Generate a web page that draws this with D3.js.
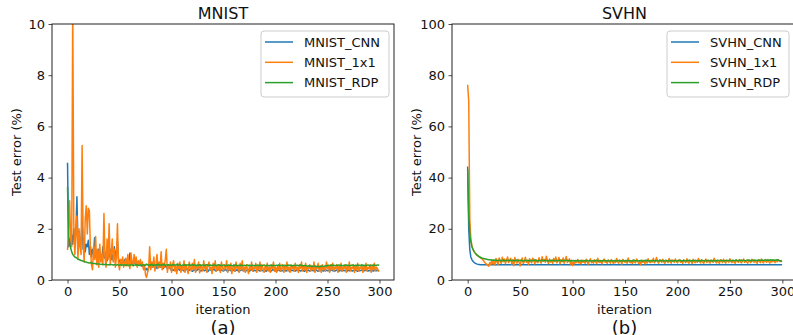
<!DOCTYPE html>
<html><head><meta charset="utf-8">
<script src="https://cdn.jsdelivr.net/npm/d3@7"></script>
<style>body{margin:0;background:#fff}svg{display:block}text{font-family:"DejaVu Sans",sans-serif;fill:#111}</style>
</head><body><svg id="c" width="793" height="335"></svg>
<script>
const xTicks = [0,50,100,150,200,250,300];
const mnistYTicks = [0,2,4,6,8,10];
const svhnYTicks = [0,20,40,60,80,100];
const mnistNames = ["MNIST_CNN","MNIST_1x1","MNIST_RDP"];
const svhnNames = ["SVHN_CNN","SVHN_1x1","SVHN_RDP"];
const colors = ["#1f77b4","#ff7f0e","#2ca02c"];

const mnistCNN = [4.55,1.30,1.60,1.35,1.75,1.40,2.00,1.50,1.80,3.25,
1.40,1.90,1.30,1.50,2.35,1.20,1.60,1.10,1.40,1.30,
1.55,1.00,1.30,0.90,1.20,1.00,1.65,0.90,1.10,0.80,
1.20,0.90,1.00,0.80,1.30,0.90,0.85,1.10,0.75,1.00,
0.90,1.20,0.80,1.00,0.75,1.30,0.90,1.10,1.50,0.80,
0.70,0.80,0.60,0.75,0.65,0.80,0.70,0.60,0.75,0.70,
1.05,0.70,0.65,0.60,0.70,0.65,0.60,0.70,0.60,0.65,
0.60,0.55,0.60,0.50,0.45,0.40,0.45,0.35,0.50,0.55,
0.50,0.55,0.50,0.60,0.50,0.55,0.45,0.50,0.55,0.50,
0.55,0.50,0.45,0.50,0.55,0.50,0.45,0.50,0.50,0.45,
0.36,0.40,0.38,0.42,0.37,0.35,0.40,0.44,0.38,0.36,
0.41,0.39,0.35,0.37,0.43,0.40,0.36,0.38,0.42,0.39,
0.34,0.37,0.41,0.38,0.36,0.40,0.45,0.39,0.35,0.37,
0.42,0.38,0.36,0.40,0.37,0.33,0.39,0.41,0.38,0.36,
0.40,0.43,0.37,0.35,0.39,0.42,0.38,0.36,0.40,0.37,
0.35,0.39,0.41,0.37,0.34,0.38,0.40,0.36,0.39,0.42,
0.37,0.35,0.38,0.40,0.36,0.33,0.37,0.39,0.41,0.36,
0.38,0.35,0.37,0.40,0.36,0.34,0.38,0.41,0.37,0.35,
0.39,0.36,0.38,0.42,0.37,0.35,0.40,0.38,0.36,0.39,
0.37,0.34,0.38,0.40,0.36,0.38,0.35,0.39,0.41,0.37,
0.35,0.38,0.36,0.40,0.37,0.34,0.38,0.36,0.39,0.37,
0.35,0.38,0.40,0.36,0.34,0.37,0.39,0.36,0.38,0.35,
0.37,0.40,0.36,0.38,0.35,0.37,0.39,0.36,0.34,0.38,
0.36,0.39,0.37,0.35,0.38,0.40,0.36,0.37,0.35,0.39,
0.37,0.34,0.38,0.36,0.40,0.37,0.35,0.38,0.36,0.39,
0.36,0.38,0.35,0.37,0.40,0.36,0.38,0.35,0.37,0.39,
0.36,0.34,0.38,0.37,0.35,0.39,0.36,0.38,0.37,0.35,
0.38,0.36,0.40,0.37,0.35,0.38,0.36,0.39,0.37,0.34,
0.38,0.36,0.37,0.39,0.35,0.38,0.36,0.40,0.37,0.35,
0.38,0.36,0.39,0.37,0.35,0.38,0.40,0.36,0.38,0.37];

const mnist1x1 = [1.20,2.00,3.10,1.60,1.30,10.8,2.20,1.00,1.80,2.50,
0.80,2.00,1.30,1.00,5.25,1.50,0.70,2.40,2.90,1.80,
2.80,2.70,1.20,0.60,0.40,1.30,0.80,1.70,0.60,1.20,
0.50,1.40,0.70,1.00,0.60,2.60,0.90,0.50,1.60,0.80,
2.20,0.60,1.00,1.60,0.70,1.20,0.50,0.90,2.20,0.60,
0.40,0.80,0.60,0.90,0.50,0.70,0.85,0.55,1.00,0.60,
0.45,1.05,0.70,0.55,1.00,0.65,0.90,0.50,0.75,0.60,
0.80,0.55,0.70,0.40,0.60,0.20,0.10,0.30,0.50,1.30,
0.40,0.70,0.50,0.90,0.35,0.60,1.00,0.45,0.70,0.50,
1.10,0.40,0.65,0.50,0.80,1.20,0.30,0.60,0.45,0.70,
0.30,0.60,0.75,0.35,0.55,0.25,0.65,0.45,0.70,0.30,
0.55,0.40,0.75,0.30,0.60,0.45,0.25,0.70,0.50,0.35,
0.65,0.40,0.80,0.30,0.55,0.45,0.70,0.28,0.60,0.50,
0.35,0.75,0.45,0.60,0.30,0.55,0.70,0.40,0.50,0.25,
0.65,0.45,0.75,0.35,0.55,0.40,0.60,0.30,0.70,0.50,
0.35,0.60,0.45,0.75,0.30,0.55,0.40,0.65,0.25,0.50,
0.60,0.35,0.70,0.45,0.55,0.30,0.65,0.40,0.75,0.35,
0.50,0.30,0.60,0.45,0.25,0.55,0.40,0.70,0.35,0.50,
0.45,0.65,0.30,0.55,0.40,0.70,0.35,0.60,0.45,0.30,
0.55,0.40,0.65,0.35,0.50,0.30,0.60,0.45,0.70,0.35,
0.50,0.30,0.55,0.40,0.65,0.35,0.45,0.60,0.30,0.55,
0.40,0.70,0.35,0.50,0.30,0.60,0.45,0.55,0.35,0.65,
0.40,0.50,0.30,0.60,0.45,0.70,0.35,0.55,0.40,0.65,
0.30,0.50,0.45,0.60,0.35,0.55,0.40,0.70,0.30,0.50,
0.45,0.65,0.35,0.55,0.30,0.60,0.40,0.50,0.35,0.70,
0.45,0.55,0.30,0.60,0.40,0.65,0.35,0.50,0.45,0.60,
0.30,0.55,0.40,0.65,0.35,0.50,0.45,0.60,0.30,0.55,
0.40,0.70,0.35,0.50,0.45,0.60,0.30,0.55,0.40,0.65,
0.35,0.50,0.45,0.60,0.30,0.55,0.40,0.65,0.35,0.50,
0.45,0.60,0.30,0.55,0.40,0.65,0.35,0.50,0.45,0.35];

const mnistRDP = [3.60,1.70,1.40,1.25,1.10,1.00,0.95,0.90,0.88,0.85,
0.82,0.80,0.78,0.76,0.75,0.74,0.72,0.70,0.70,0.68,
0.67,0.66,0.68,0.65,0.66,0.64,0.65,0.63,0.64,0.62,
0.63,0.62,0.61,0.62,0.60,0.61,0.60,0.62,0.59,0.60,
0.60,0.59,0.61,0.60,0.58,0.60,0.59,0.58,0.60,0.59,
0.58,0.60,0.57,0.59,0.58,0.60,0.57,0.59,0.58,0.57,
0.59,0.58,0.60,0.57,0.58,0.59,0.57,0.60,0.58,0.57,
0.59,0.56,0.58,0.60,0.57,0.58,0.62,0.59,0.57,0.60,
0.58,0.61,0.57,0.59,0.58,0.60,0.57,0.62,0.58,0.59,
0.57,0.60,0.58,0.61,0.57,0.59,0.58,0.60,0.57,0.59,
0.58,0.60,0.57,0.59,0.58,0.61,0.57,0.59,0.60,0.58,
0.57,0.59,0.58,0.60,0.57,0.59,0.58,0.61,0.57,0.58,
0.60,0.57,0.59,0.58,0.56,0.59,0.57,0.60,0.58,0.57,
0.59,0.58,0.56,0.58,0.60,0.57,0.58,0.59,0.56,0.58,
0.57,0.59,0.58,0.56,0.58,0.60,0.57,0.58,0.56,0.57,
0.59,0.57,0.56,0.58,0.57,0.59,0.56,0.58,0.57,0.55,
0.58,0.57,0.59,0.56,0.57,0.58,0.56,0.59,0.57,0.56,
0.58,0.56,0.57,0.59,0.56,0.58,0.57,0.55,0.58,0.57,
0.56,0.58,0.57,0.59,0.56,0.57,0.58,0.56,0.57,0.59,
0.57,0.56,0.58,0.57,0.55,0.58,0.57,0.56,0.58,0.57,
0.56,0.58,0.57,0.59,0.56,0.57,0.58,0.56,0.57,0.58,
0.56,0.57,0.59,0.56,0.58,0.57,0.55,0.57,0.58,0.56,
0.57,0.58,0.56,0.57,0.59,0.56,0.57,0.55,0.57,0.56,
0.55,0.54,0.56,0.53,0.55,0.52,0.54,0.53,0.55,0.52,
0.54,0.53,0.51,0.54,0.52,0.55,0.53,0.54,0.56,0.55,
0.57,0.58,0.56,0.57,0.59,0.56,0.58,0.57,0.56,0.58,
0.57,0.59,0.56,0.58,0.57,0.55,0.58,0.57,0.59,0.56,
0.58,0.57,0.56,0.58,0.59,0.57,0.56,0.58,0.57,0.59,
0.56,0.58,0.57,0.59,0.56,0.58,0.57,0.56,0.58,0.59,
0.57,0.56,0.58,0.57,0.59,0.56,0.58,0.57,0.59,0.58];

const svhnCNN = [44,20,12,9,8,7.3,6.9,6.6,6.4,6.2,
6.1,6.05,6.0,6.0,6.0,6.0,6.0,6.0,6.0,6.0,
6.0,6.0,6.0,6.0,6.0,6.0,6.0,6.0,6.0,6.0,
6.0,6.0,6.0,6.0,6.0,6.0,6.0,6.0,6.0,6.0,
6.0,6.0,6.0,6.0,6.0,6.0,6.0,6.0,6.0,6.0,
6.0,6.0,6.0,6.0,6.0,6.0,6.0,6.0,6.0,6.0,
6.0,6.0,6.0,6.0,6.0,6.0,6.0,6.0,6.0,6.0,
6.0,6.0,6.0,6.0,6.0,6.0,6.0,6.0,6.0,6.0,
6.0,6.0,6.0,6.0,6.0,6.0,6.0,6.0,6.0,6.0,
6.0,6.0,6.0,6.0,6.0,6.0,6.0,6.0,6.0,6.0,
6.0,6.0,6.0,6.0,6.0,6.0,6.0,6.0,6.0,6.0,
6.0,6.0,6.0,6.0,6.0,6.0,6.0,6.0,6.0,6.0,
6.0,6.0,6.0,6.0,6.0,6.0,6.0,6.0,6.0,6.0,
6.0,6.0,6.0,6.0,6.0,6.0,6.0,6.0,6.0,6.0,
6.0,6.0,6.0,6.0,6.0,6.0,6.0,6.0,6.0,6.0,
6.0,6.0,6.0,6.0,6.0,6.0,6.0,6.0,6.0,6.0,
6.0,6.0,6.0,6.0,6.0,6.0,6.0,6.0,6.0,6.0,
6.0,6.0,6.0,6.0,6.0,6.0,6.0,6.0,6.0,6.0,
6.0,6.0,6.0,6.0,6.0,6.0,6.0,6.0,6.0,6.0,
6.0,6.0,6.0,6.0,6.0,6.0,6.0,6.0,6.0,6.0,
6.0,6.0,6.0,6.0,6.0,6.0,6.0,6.0,6.0,6.0,
6.0,6.0,6.0,6.0,6.0,6.0,6.0,6.0,6.0,6.0,
6.0,6.0,6.0,6.0,6.0,6.0,6.0,6.0,6.0,6.0,
6.0,6.0,6.0,6.0,6.0,6.0,6.0,6.0,6.0,6.0,
6.0,6.0,6.0,6.0,6.0,6.0,6.0,6.0,6.0,6.0,
6.0,6.0,6.0,6.0,6.0,6.0,6.0,6.0,6.0,6.0,
6.0,6.0,6.0,6.0,6.0,6.0,6.0,6.0,6.0,6.0,
6.0,6.0,6.0,6.0,6.0,6.0,6.0,6.0,6.0,6.0,
6.0,6.0,6.0,6.0,6.0,6.0,6.0,6.0,6.0,6.0,
6.0,6.0,6.0,6.0,6.0,6.0,6.0,6.0,6.0,6.0];

const svhn1x1 = [76,70,24,16,13.5,12,11.2,10.6,10.1,9.7,
9.3,9.0,8.7,8.4,8.1,7.6,7.0,6.5,6.2,5.8,
5.4,6.8,6.0,7.8,6.3,7.2,5.9,8.4,7.0,6.1,
8.6,7.4,6.5,8.9,7.1,8.2,6.4,7.8,9.0,6.8,
7.6,8.5,6.2,7.9,5.6,8.8,7.3,6.6,8.1,7.0,
5.5,7.7,8.6,6.4,7.2,8.9,6.9,7.5,6.1,8.3,
7.4,6.7,8.5,7.9,6.3,8.0,7.1,6.8,8.7,7.5,
6.6,9.1,7.3,8.0,6.9,9.3,7.6,6.4,8.2,7.0,
7.8,6.5,8.4,7.2,9.0,6.7,7.5,8.8,6.3,7.9,
7.1,8.6,6.5,7.7,9.2,6.8,7.4,8.3,6.2,7.6,
5.6,7.0,6.4,7.3,6.8,8.0,6.6,7.2,6.3,7.8,
6.9,7.5,6.5,8.1,7.0,6.2,7.4,8.3,6.7,7.1,
6.6,7.9,7.2,6.4,8.5,7.0,6.8,7.6,6.3,7.4,
8.2,6.9,7.3,6.5,7.8,7.1,6.6,8.0,7.2,6.4,
7.5,6.8,8.4,7.0,6.6,7.7,7.3,6.2,8.1,7.4,
6.9,7.6,6.5,8.6,7.1,6.8,7.3,6.4,7.9,7.0,
6.7,8.2,7.4,6.5,7.2,6.0,7.8,6.9,7.5,6.3,
7.7,6.6,8.3,7.1,6.8,7.6,7.0,8.5,6.7,7.3,
8.8,7.2,6.6,7.9,7.4,6.9,8.1,7.0,6.5,7.7,
7.3,6.8,8.4,7.1,6.6,7.8,7.5,6.9,8.2,7.2,
6.7,7.6,8.0,6.9,7.4,6.5,7.9,7.2,6.8,8.3,
7.0,6.6,7.7,7.3,6.4,8.1,7.1,6.8,7.6,6.9,
8.4,7.2,6.7,7.9,7.0,6.5,7.5,8.2,6.8,7.3,
7.1,6.6,7.8,7.4,6.9,8.5,7.2,6.7,7.6,7.0,
6.5,7.9,7.3,6.8,8.1,7.1,6.6,7.7,7.4,6.9,
8.3,7.2,6.8,7.6,7.0,6.5,7.8,7.3,6.9,8.0,
7.1,6.7,7.5,8.2,6.9,7.4,7.0,6.6,7.8,7.2,
6.8,8.1,7.3,6.9,7.6,7.0,6.5,7.9,7.4,6.8,
8.2,7.1,6.7,7.7,7.3,6.9,8.0,7.2,6.6,7.5,
7.0,7.8,7.3,6.8,7.6,7.1,7.9,7.4,7.2,7.6];

const svhnRDP = [43,26,18,15,13,12,11.2,10.6,10.1,9.7,
9.4,9.1,8.9,8.7,8.5,8.4,8.3,8.2,8.1,8.0,
7.9,7.9,7.8,7.8,7.7,7.8,7.7,7.6,7.7,7.6,
7.6,7.7,7.5,7.6,7.8,7.5,7.7,7.6,7.5,7.7,
7.6,7.8,7.5,7.6,7.7,7.5,7.6,7.8,7.5,7.6,
7.7,7.5,7.6,7.4,7.7,7.6,7.5,7.7,7.6,7.4,
7.6,7.7,7.5,7.6,7.8,7.5,7.6,7.4,7.7,7.5,
7.6,7.8,7.5,7.6,7.7,7.5,7.6,7.4,7.7,7.6,
7.5,7.7,7.6,7.4,7.6,7.7,7.5,7.6,7.8,7.5,
7.6,7.4,7.7,7.5,7.6,7.7,7.5,7.6,7.4,7.6,
7.5,7.6,7.4,7.6,7.5,7.7,7.4,7.5,7.6,7.4,
7.5,7.6,7.4,7.5,7.7,7.4,7.5,7.6,7.4,7.5,
7.6,7.4,7.5,7.7,7.5,7.4,7.6,7.5,7.4,7.6,
7.5,7.7,7.4,7.5,7.6,7.4,7.5,7.6,7.5,7.4,
7.6,7.5,7.4,7.6,7.5,7.7,7.4,7.5,7.6,7.4,
7.5,7.6,7.4,7.5,7.6,7.5,7.4,7.6,7.5,7.7,
7.4,7.5,7.6,7.4,7.5,7.6,7.5,7.4,7.6,7.5,
7.7,7.5,7.6,7.4,7.5,7.6,7.5,7.7,7.4,7.6,
7.5,7.6,7.4,7.5,7.7,7.5,7.6,7.4,7.5,7.6,
7.5,7.4,7.6,7.5,7.7,7.4,7.6,7.5,7.6,7.4,
7.5,7.6,7.5,7.7,7.4,7.5,7.6,7.5,7.4,7.6,
7.5,7.7,7.6,7.4,7.5,7.6,7.5,7.7,7.5,7.6,
7.4,7.6,7.5,7.7,7.6,7.5,7.4,7.6,7.5,7.7,
7.6,7.5,7.6,7.4,7.7,7.5,7.6,7.5,7.7,7.6,
7.5,7.6,7.7,7.5,7.6,7.4,7.6,7.7,7.5,7.6,
7.7,7.5,7.6,7.7,7.5,7.6,7.8,7.6,7.5,7.7,
7.6,7.8,7.5,7.7,7.6,7.5,7.7,7.8,7.6,7.7,
7.5,7.7,7.6,7.8,7.6,7.7,7.5,7.7,7.8,7.6,
7.7,7.8,7.6,7.7,7.9,7.7,7.6,7.8,7.7,7.9,
7.7,7.8,7.6,7.8,7.7,7.9,7.8,7.6,7.5,7.3];

const svg = d3.select("#c");

function panel(cfg){
  const x = d3.scaleLinear().domain([-14.95, 313.95]).range([cfg.left, cfg.right]);
  const y = d3.scaleLinear().domain(cfg.yDomain).range([280, 24]);
  const g = svg.append("g");
  const clipId = "clip" + cfg.id;
  g.append("clipPath").attr("id", clipId).append("rect")
    .attr("x", cfg.left).attr("y", 24).attr("width", cfg.right - cfg.left).attr("height", 256);
  const line = d3.line().x((d,i)=>x(i)).y(d=>y(d));
  const lines = g.append("g").attr("clip-path", `url(#${clipId})`);
  cfg.series.forEach((s, k) => {
    lines.append("path").datum(s).attr("d", line)
      .attr("fill","none").attr("stroke", colors[k]).attr("stroke-width",1.5)
      .attr("stroke-linejoin","round").attr("stroke-linecap","square");
  });
  // axes
  const xa = g.append("g").attr("transform","translate(0,280)")
    .call(d3.axisBottom(x).tickValues(xTicks).tickSize(3.5).tickPadding(3.5).tickFormat(d3.format("d")));
  const ya = g.append("g").attr("transform",`translate(${cfg.left},0)`)
    .call(d3.axisLeft(y).tickValues(cfg.yTicks).tickSize(3.5).tickPadding(3.5).tickFormat(d3.format("d")));
  [xa, ya].forEach(a => {
    a.select(".domain").remove();
    a.selectAll(".tick line").attr("stroke","#222").attr("stroke-width",0.8);
    a.selectAll(".tick text").attr("font-size",13).attr("font-family","DejaVu Sans").attr("fill","#111");
  });
  // spines
  g.append("rect").attr("x", cfg.left).attr("y", 24).attr("width", cfg.right-cfg.left).attr("height",256)
    .attr("fill","none").attr("stroke","#222").attr("stroke-width",1);
  const cx = (cfg.left + cfg.right)/2;
  g.append("text").attr("x", cx).attr("y", 19).attr("text-anchor","middle").attr("font-size",16).text(cfg.title);
  g.append("text").attr("x", cx).attr("y", 314).attr("text-anchor","middle").attr("font-size",13).text("iteration");
  g.append("text").attr("x", cx).attr("y", 334).attr("text-anchor","middle").attr("font-size",18).text(cfg.sub);
  g.append("text").attr("transform",`translate(${cfg.left-31},152) rotate(-90)`)
    .attr("text-anchor","middle").attr("font-size",13).text("Test error (%)");
  // legend
  const lg = g.append("g").attr("transform",`translate(${cfg.legX},31)`);
  lg.append("rect").attr("x",0).attr("y",0).attr("width",cfg.legW).attr("height",66).attr("rx",3)
    .attr("fill","#fff").attr("fill-opacity",0.8).attr("stroke","#ccc").attr("stroke-width",1);
  cfg.names.forEach((n,k)=>{
    const yy = 11 + k*20.3;
    lg.append("line").attr("x1",4).attr("x2",32).attr("y1",yy).attr("y2",yy)
      .attr("stroke",colors[k]).attr("stroke-width",1.5);
    lg.append("text").attr("x",43).attr("y",yy+4.7).attr("font-size",13).text(n);
  });
}

panel({id:"a", left:52, right:394, yDomain:[0,10], yTicks:mnistYTicks, series:[mnistCNN,mnist1x1,mnistRDP],
  names:mnistNames, title:"MNIST", sub:"(a)", legX:261, legW:128});
panel({id:"b", left:452, right:797, yDomain:[0,100], yTicks:svhnYTicks, series:[svhnCNN,svhn1x1,svhnRDP],
  names:svhnNames, title:"SVHN", sub:"(b)", legX:667, legW:122});
</script></body></html>
